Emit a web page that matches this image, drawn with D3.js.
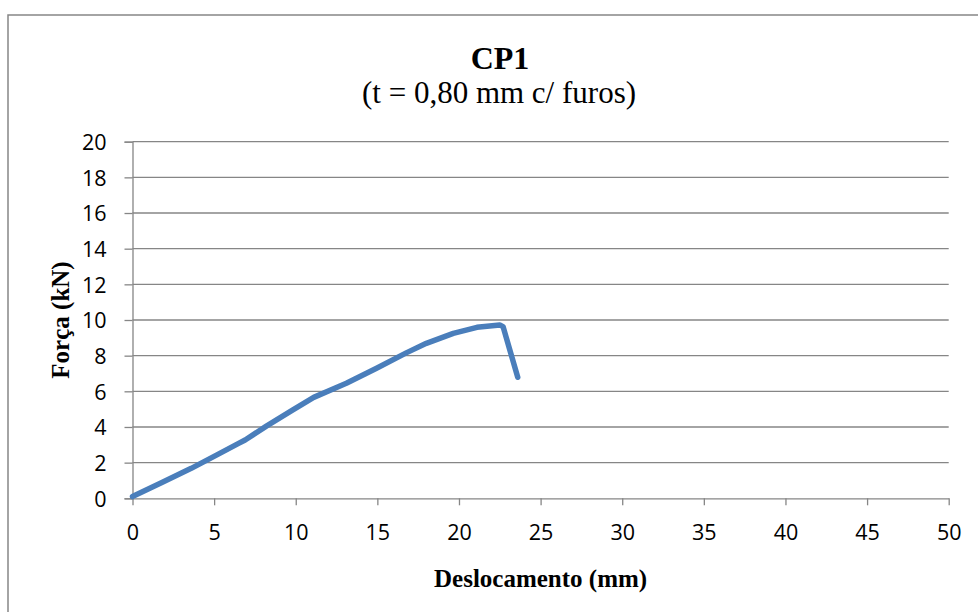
<!DOCTYPE html>
<html>
<head>
<meta charset="utf-8">
<script src="https://cdn.jsdelivr.net/npm/d3@7"></script>
<style>
  html, body { margin: 0; padding: 0; background: #fff; }
  svg { display: block; }
</style>
</head>
<body>
<svg id="chart" width="978" height="612"></svg>
<script>
const displacement = [0, 1.8, 3.6, 5.2, 6.5, 6.9, 8.2, 9.8, 11.1, 13.1, 14.95, 16.8, 18.0, 19.65, 21.1, 22.5, 22.7, 23.6];
const force        = [0.1, 0.88, 1.68, 2.45, 3.08, 3.27, 4.05, 4.95, 5.66, 6.45, 7.29, 8.17, 8.69, 9.25, 9.59, 9.72, 9.63, 6.79];
const xTicks = [0, 5, 10, 15, 20, 25, 30, 35, 40, 45, 50];
const yTicks = [0, 2, 4, 6, 8, 10, 12, 14, 16, 18, 20];
const titleText = "CP1";
const subtitleText = "(t = 0,80 mm c/ furos)";
const xTitle = "Deslocamento (mm)";
const yTitle = "Força (kN)";

const svg = d3.select("#chart");
const grey = "#868686";
const serif = "'Liberation Serif', 'Times New Roman', serif";
const sans = "'Open Sans', sans-serif";

// outer chart border
svg.append("rect")
  .attr("x", 8).attr("y", 15)
  .attr("width", 990).attr("height", 620)
  .attr("fill", "#fff").attr("stroke", grey).attr("stroke-width", 1.5);

const x = d3.scaleLinear().domain([0, 50]).range([132.5, 948.7]);
const y = d3.scaleLinear().domain([0, 20]).range([498.3, 141.7]);

// gridlines
svg.append("g").selectAll("line").data(yTicks.filter(d => d > 0)).join("line")
  .attr("x1", x(0)).attr("x2", x(50))
  .attr("y1", d => y(d)).attr("y2", d => y(d))
  .attr("stroke", grey).attr("stroke-width", 1.3);

// y axis
const yAxis = svg.append("g").attr("transform", `translate(${x(0)},0)`)
  .call(d3.axisLeft(y).tickValues(yTicks).tickSize(8).tickPadding(18).tickFormat(d3.format("d")));
yAxis.select(".domain").attr("stroke", grey).attr("stroke-width", 1.3);
yAxis.selectAll(".tick line").attr("stroke", grey).attr("stroke-width", 1.3);
yAxis.selectAll(".tick text")
  .attr("font-family", sans).attr("font-size", 21.5).attr("fill", "#000")
  .attr("dy", "0.36em");

// x axis
const xAxis = svg.append("g").attr("transform", `translate(0,${y(0)})`)
  .call(d3.axisBottom(x).tickValues(xTicks).tickSize(7).tickSizeOuter(0).tickPadding(19).tickFormat(d3.format("d")));
xAxis.select(".domain").attr("stroke", grey).attr("stroke-width", 1.3);
xAxis.selectAll(".tick line").attr("stroke", grey).attr("stroke-width", 1.3);
xAxis.selectAll(".tick text")
  .attr("font-family", sans).attr("font-size", 21.5).attr("fill", "#000");

// data line
const line = d3.line().x((d, i) => x(displacement[i])).y((d, i) => y(force[i])).curve(d3.curveLinear);
svg.append("path")
  .datum(force)
  .attr("d", line)
  .attr("fill", "none")
  .attr("stroke", "#4a7ebb")
  .attr("stroke-width", 5.5)
  .attr("stroke-linejoin", "round")
  .attr("stroke-linecap", "round");

// titles
svg.append("text").attr("x", 500).attr("y", 69)
  .attr("text-anchor", "middle")
  .attr("font-family", serif)
  .attr("font-weight", "bold").attr("font-size", 32).text(titleText);
svg.append("text").attr("x", 499).attr("y", 103)
  .attr("text-anchor", "middle")
  .attr("font-family", serif)
  .attr("font-size", 31).text(subtitleText);

svg.append("text").attr("x", (x(0) + x(50)) / 2).attr("y", 587)
  .attr("text-anchor", "middle")
  .attr("font-family", serif)
  .attr("font-weight", "bold").attr("font-size", 25).text(xTitle);

svg.append("text")
  .attr("transform", `translate(69,${(y(0) + y(20)) / 2}) rotate(-90)`)
  .attr("text-anchor", "middle")
  .attr("font-family", serif)
  .attr("font-weight", "bold").attr("font-size", 25).text(yTitle);
</script>
</body>
</html>
